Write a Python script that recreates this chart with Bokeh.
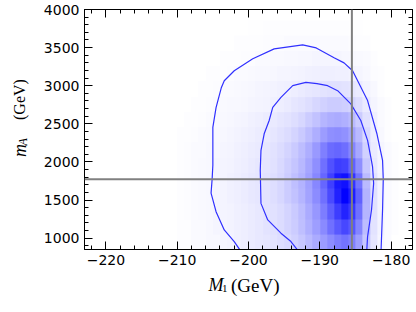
import numpy as np
from bokeh.plotting import figure
from bokeh.layouts import row, column
from bokeh.models import Span, Label, LinearAxis, FixedTicker, LinearColorMapper, Range1d
from bokeh.embed import file_html
from bokeh.resources import INLINE

# ---------------- data ----------------
# histogram bin edges
m1_edges = [-210, -209, -208, -207, -206, -205, -204, -203, -202, -201, -200,
            -199, -198, -197, -196, -195, -194, -193, -192, -191, -190,
            -189, -188, -187, -186, -185, -184, -183, -182, -181, -180,
            -179, -178]
mA_edges = [850, 1050, 1250, 1450, 1650, 1850, 2050, 2250, 2450, 2650,
            2850, 3050, 3250, 3450, 3650, 3850]

# relative posterior density (0..1), one row per mA bin, bottom (950) to top (3750)
dens_950 = [0.01, 0.01, 0.02, 0.02, 0.03, 0.03, 0.04, 0.05, 0.06, 0.07, 0.08, 0.09, 0.10, 0.11, 0.13, 0.15,
            0.18, 0.22, 0.27, 0.33, 0.39, 0.45, 0.51, 0.55, 0.50, 0.38, 0.22, 0.10, 0.04, 0.02, 0.00, 0.00]
dens_1150 = [0.01, 0.01, 0.02, 0.02, 0.03, 0.04, 0.04, 0.05, 0.06, 0.07, 0.08, 0.09, 0.11, 0.12, 0.14, 0.17,
             0.20, 0.25, 0.31, 0.38, 0.46, 0.56, 0.65, 0.72, 0.66, 0.48, 0.26, 0.11, 0.05, 0.02, 0.01, 0.00]
dens_1350 = [0.01, 0.015, 0.02, 0.025, 0.03, 0.04, 0.045, 0.05, 0.06, 0.07, 0.08, 0.09, 0.11, 0.12, 0.14, 0.17,
             0.21, 0.26, 0.33, 0.41, 0.51, 0.63, 0.76, 0.86, 0.78, 0.56, 0.29, 0.12, 0.05, 0.02, 0.01, 0.00]
dens_1550 = [0.01, 0.015, 0.02, 0.025, 0.03, 0.04, 0.045, 0.055, 0.065, 0.075, 0.09, 0.10, 0.11, 0.13, 0.16, 0.20,
             0.24, 0.29, 0.36, 0.45, 0.56, 0.71, 0.87, 0.99, 0.88, 0.62, 0.30, 0.12, 0.05, 0.02, 0.01, 0.00]
dens_1750 = [0.01, 0.015, 0.02, 0.025, 0.03, 0.04, 0.045, 0.055, 0.065, 0.075, 0.09, 0.10, 0.11, 0.13, 0.16, 0.20,
             0.25, 0.30, 0.37, 0.47, 0.60, 0.75, 0.90, 0.93, 0.80, 0.55, 0.27, 0.11, 0.05, 0.02, 0.01, 0.00]
dens_1950 = [0.01, 0.015, 0.02, 0.025, 0.03, 0.04, 0.045, 0.05, 0.06, 0.07, 0.085, 0.095, 0.105, 0.12, 0.15, 0.19,
             0.23, 0.28, 0.35, 0.44, 0.56, 0.68, 0.76, 0.74, 0.62, 0.44, 0.22, 0.09, 0.04, 0.02, 0.01, 0.00]
dens_2150 = [0.01, 0.015, 0.02, 0.02, 0.03, 0.035, 0.04, 0.045, 0.055, 0.065, 0.075, 0.085, 0.10, 0.115, 0.14, 0.17,
             0.21, 0.26, 0.32, 0.40, 0.50, 0.58, 0.60, 0.57, 0.48, 0.34, 0.18, 0.08, 0.04, 0.02, 0.01, 0.00]
dens_2350 = [0.01, 0.01, 0.015, 0.02, 0.025, 0.03, 0.035, 0.04, 0.05, 0.055, 0.065, 0.075, 0.085, 0.10, 0.12, 0.14,
             0.17, 0.21, 0.26, 0.32, 0.39, 0.44, 0.45, 0.43, 0.37, 0.27, 0.15, 0.07, 0.03, 0.01, 0.00, 0.00]
dens_2550 = [0.00, 0.01, 0.01, 0.015, 0.02, 0.025, 0.03, 0.035, 0.04, 0.045, 0.055, 0.065, 0.075, 0.085, 0.10, 0.11,
             0.13, 0.16, 0.20, 0.24, 0.29, 0.32, 0.33, 0.31, 0.27, 0.20, 0.12, 0.06, 0.02, 0.01, 0.00, 0.00]
dens_2750 = [0.00, 0.00, 0.01, 0.01, 0.015, 0.02, 0.025, 0.03, 0.03, 0.035, 0.04, 0.045, 0.05, 0.06, 0.07, 0.08,
             0.10, 0.11, 0.13, 0.16, 0.18, 0.20, 0.20, 0.19, 0.17, 0.13, 0.08, 0.04, 0.02, 0.01, 0.00, 0.00]
dens_2950 = [0.00, 0.00, 0.00, 0.01, 0.01, 0.015, 0.02, 0.02, 0.025, 0.03, 0.035, 0.04, 0.045, 0.05, 0.055, 0.06,
             0.07, 0.08, 0.09, 0.10, 0.11, 0.12, 0.12, 0.11, 0.10, 0.08, 0.05, 0.03, 0.01, 0.00, 0.00, 0.00]
dens_3150 = [0.00, 0.00, 0.00, 0.00, 0.01, 0.01, 0.01, 0.015, 0.02, 0.02, 0.025, 0.03, 0.03, 0.035, 0.04, 0.04,
             0.045, 0.05, 0.055, 0.06, 0.065, 0.065, 0.06, 0.06, 0.05, 0.04, 0.03, 0.015, 0.01, 0.00, 0.00, 0.00]
dens_3350 = [0.00, 0.00, 0.00, 0.00, 0.00, 0.00, 0.01, 0.01, 0.01, 0.015, 0.015, 0.02, 0.02, 0.025, 0.025, 0.03,
             0.03, 0.035, 0.035, 0.04, 0.04, 0.04, 0.04, 0.035, 0.03, 0.025, 0.02, 0.01, 0.00, 0.00, 0.00, 0.00]
dens_3550 = [0.00, 0.00, 0.00, 0.00, 0.00, 0.00, 0.00, 0.00, 0.01, 0.01, 0.01, 0.01, 0.015, 0.015, 0.015, 0.02,
             0.02, 0.02, 0.02, 0.02, 0.02, 0.02, 0.02, 0.02, 0.015, 0.01, 0.01, 0.00, 0.00, 0.00, 0.00, 0.00]
dens_3750 = [0.00, 0.00, 0.00, 0.00, 0.00, 0.00, 0.00, 0.00, 0.00, 0.00, 0.005, 0.005, 0.01, 0.01, 0.01, 0.01,
             0.01, 0.01, 0.01, 0.01, 0.01, 0.01, 0.01, 0.01, 0.005, 0.005, 0.00, 0.00, 0.00, 0.00, 0.00, 0.00]

# 95% contour
outer_m1 = [-201.15, -201.3, -202.0, -203.4, -204.55, -205.25, -205.1, -205.0, -205.0, -204.55,
            -203.8, -203.4, -202.0, -199.4, -196.4, -192.4, -190.5, -188.0, -186.6, -185.4,
            -183.3, -182.0, -181.2, -181.1, -181.2, -181.4, -181.45]
outer_mA = [840, 861, 956, 1109, 1348, 1592, 1775, 1957, 2453, 2713,
            2978, 3066, 3196, 3353, 3483, 3535, 3496, 3366, 3300, 3196,
            2805, 2374, 2022, 1774, 1370, 861, 840]
# 68% contour
inner_m1 = [-193.1, -193.25, -194.05, -195.45, -197.3, -198.25, -198.35, -198.25, -197.8, -197.1,
            -196.6, -195.45, -193.8, -191.95, -190.4, -188.9, -187.5, -185.65, -184.25, -183.3,
            -182.85, -182.6, -182.45, -182.75, -183.3, -183.4, -183.45]
inner_mA = [840, 861, 956, 1066, 1240, 1457, 1892, 2153, 2370, 2544,
            2717, 2848, 3001, 3044, 3027, 3001, 2935, 2762, 2544, 2283,
            2065, 1935, 1718, 1370, 1022, 861, 840]

best_m1 = -185.5
best_mA = 1775

x_ticks = [-220, -210, -200, -190, -180]
x_tick_labels = ["\u2212220", "\u2212210", "\u2212200", "\u2212190", "\u2212180"]
y_ticks = [1000, 1500, 2000, 2500, 3000, 3500, 4000]
y_tick_labels = ["1000", "1500", "2000", "2500", "3000", "3500", "4000"]

x_lo, x_hi = -223, -177
y_lo, y_hi = 852, 4000

# ---------------- layout (page pixels) ----------------
PAGE_W, PAGE_H = 416, 300
YL_W = 40                 # strip holding the y title
MAIN_H = 272              # main figure height
MAIN_W = PAGE_W - YL_W
XL_H = PAGE_H - MAIN_H    # strip holding the x title
FL, FR, FT, FB = 83, 412, 9, 249   # frame edges in page px


def no_align(f):
    if "frame_align" in f.properties():
        f.frame_align = False


p = figure(width=MAIN_W, height=MAIN_H, x_range=Range1d(x_lo, x_hi), y_range=Range1d(y_lo, y_hi),
           output_backend="svg", toolbar_location=None,
           min_border_left=FL - YL_W, min_border_right=PAGE_W - FR,
           min_border_top=FT, min_border_bottom=MAIN_H - FB)
no_align(p)
p.xgrid.visible = False
p.ygrid.visible = False
p.outline_line_color = "black"
p.background_fill_color = "white"
p.border_fill_color = "white"

density = np.array([dens_950, dens_1150, dens_1350, dens_1550, dens_1750, dens_1950, dens_2150,
                    dens_2350, dens_2550, dens_2750, dens_2950, dens_3150, dens_3350, dens_3550,
                    dens_3750], dtype=float)

palette = ["#%02x%02xff" % (255 - i, 255 - i) for i in range(256)]
mapper = LinearColorMapper(palette=palette, low=0.0, high=1.0)
p.image(image=[density], x=m1_edges[0], y=mA_edges[0],
        dw=m1_edges[-1] - m1_edges[0], dh=mA_edges[-1] - mA_edges[0],
        color_mapper=mapper)

p.line(outer_m1, outer_mA, line_color="#3030ff", line_width=1.2)
p.line(inner_m1, inner_mA, line_color="#3030ff", line_width=1.2)

p.add_layout(Span(location=best_m1, dimension="height", line_color="#808080", line_width=2))
p.add_layout(Span(location=best_mA, dimension="width", line_color="#808080", line_width=2))

x_minor = list(range(-222, -176, 2))
y_minor = list(range(900, 4001, 100))


def style_axis(ax, ticks, minor, labels, show):
    ax.ticker = FixedTicker(ticks=ticks, minor_ticks=minor)
    ax.axis_line_color = "black"
    ax.axis_line_width = 1
    ax.major_tick_line_color = "black"
    ax.minor_tick_line_color = "black"
    ax.major_tick_in = 8
    ax.major_tick_out = 0
    ax.minor_tick_in = 4
    ax.minor_tick_out = 0
    if show:
        ax.major_label_overrides = dict(zip(ticks, labels))
        ax.major_label_text_font = "DejaVu Sans"
        ax.major_label_text_font_size = "14px"
        ax.major_label_text_color = "black"
        ax.major_label_standoff = 5
    else:
        ax.major_label_text_font_size = "0px"
        ax.major_label_text_color = None
        ax.major_label_standoff = 0


style_axis(p.xaxis[0], x_ticks, x_minor, x_tick_labels, True)
style_axis(p.yaxis[0], y_ticks, y_minor, y_tick_labels, True)
top_ax = LinearAxis()
right_ax = LinearAxis()
p.add_layout(top_ax, "above")
p.add_layout(right_ax, "right")
style_axis(top_ax, x_ticks, x_minor, x_tick_labels, False)
style_axis(right_ax, y_ticks, y_minor, y_tick_labels, False)


def strip(w, h):
    f = figure(width=w, height=h, x_range=Range1d(0, w), y_range=Range1d(0, h),
               output_backend="svg", toolbar_location=None,
               x_axis_location=None, y_axis_location=None, min_border=0)
    no_align(f)
    f.xgrid.visible = False
    f.ygrid.visible = False
    f.outline_line_color = None
    f.background_fill_color = "white"
    f.border_fill_color = "white"
    return f


serif = "Liberation Serif"

# y title strip (page x 0..YL_W, y 0..PAGE_H)
ylab = strip(YL_W, PAGE_H)
yl = [("m", 19, 156.5, "18px", "italic"),
      ("A", 22, 145, "12px", "italic"),
      ("(GeV)", 19, 119.5, "16px", "normal")]
for t, px, py, fs, st in yl:
    ylab.add_layout(Label(x=px, y=PAGE_H - py, x_units="screen", y_units="screen", text=t,
                          text_font=serif, text_font_size=fs, text_font_style=st,
                          text_align="left", text_baseline="alphabetic",
                          text_color="black", angle=np.pi / 2))

# x title strip (page x YL_W..PAGE_W, y MAIN_H..PAGE_H)
xlab = strip(MAIN_W, XL_H)
xl = [("M", 208, 284.5, "18px", "italic"),
      ("1", 221.5, 287.5, "11px", "normal"),
      ("(GeV)", 230.5, 284.5, "19px", "normal")]
for t, px, py, fs, st in xl:
    xlab.add_layout(Label(x=px - YL_W, y=PAGE_H - py, x_units="screen", y_units="screen", text=t,
                          text_font=serif, text_font_size=fs, text_font_style=st,
                          text_align="left", text_baseline="alphabetic",
                          text_color="black"))

layout = row(ylab, column(p, xlab))
open("out.html", "w").write(file_html(layout, INLINE))
